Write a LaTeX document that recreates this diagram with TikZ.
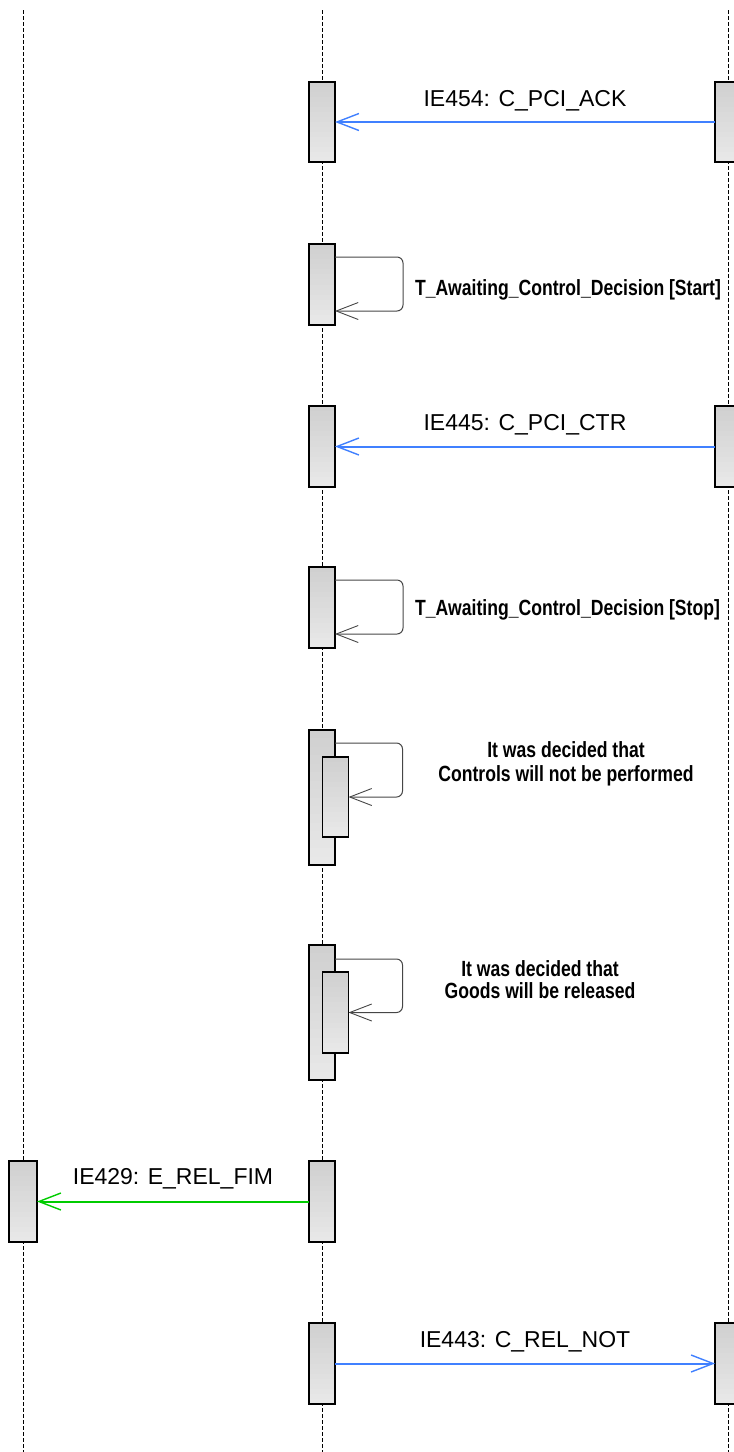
\documentclass[tikz,border=0pt]{standalone}
\usepackage{fontspec}
\setmainfont{Liberation Sans}
\newfontfamily\condbold[FakeStretch=0.8]{Liberation Sans Bold}
\usetikzlibrary{arrows.meta,calc}
\definecolor{msgblue}{RGB}{64,128,255}
\definecolor{msggreen}{RGB}{0,204,0}
\definecolor{loopgray}{RGB}{70,70,70}
\definecolor{boxtop}{RGB}{208,208,208}
\definecolor{boxbot}{RGB}{232,232,232}
\begin{document}
\begin{tikzpicture}[x=1pt,y=-1pt,
  lifeline/.style={draw=black, line width=1pt, dash pattern=on 4pt off 2pt},
  actbox/.style={draw=black, line width=1.6pt, fill=boxbot,
     minimum width=26pt, inner sep=0pt, outer sep=0pt,
     path picture={
       \foreach \k in {0,...,15}{
         \pgfmathsetmacro\pc{100-\k*100/15}
         \fill[boxtop!\pc!boxbot]
           ($(path picture bounding box.north west)!{\k/16}!(path picture bounding box.south west)$)
           rectangle
           ($(path picture bounding box.north east)!{(\k+1.3)/16}!(path picture bounding box.south east)$);
       }
     }},
  msg/.style={line width=2pt, -{Straight Barb[length=22pt,width=17pt,line width=1.4pt]}},
  selfmsg/.style={draw=loopgray, line width=1pt, rounded corners=6pt,
     -{Straight Barb[length=22pt,width=17pt,line width=0.9pt]}},
  msglabel/.style={font=\fontsize{23}{27}\selectfont, text=black, inner sep=0pt},
  condlabel/.style={font=\condbold\fontsize{22}{24}\selectfont, text=black, inner sep=0pt, align=center}
]
\useasboundingbox (0,0) rectangle (734,1452);

% lifelines
\coordinate (Ltop) at (23,10);   \coordinate (Lbot) at (23,1452);
\coordinate (Mtop) at (322,10);  \coordinate (Mbot) at (322,1452);
\coordinate (Rtop) at (728,10);  \coordinate (Rbot) at (728,1452);
\draw[lifeline] (Ltop) -- (Lbot);
\draw[lifeline] (Mtop) -- (Mbot);
\draw[lifeline] (Rtop) -- (Rbot);

% activation boxes, middle
\node[actbox, minimum height=80pt] (m1) at (322,122) {};
\node[actbox, minimum height=81pt] (m2) at (322,284.5) {};
\node[actbox, minimum height=81pt] (m3) at (322,446.5) {};
\node[actbox, minimum height=81pt] (m4) at (322,607.5) {};
\node[actbox, minimum height=135pt] (m5) at (322,797.5) {};
\node[actbox, minimum height=80pt] (m5i) at (335.5,797) {};
\node[actbox, minimum height=135pt] (m6) at (322,1012.5) {};
\node[actbox, minimum height=81pt] (m6i) at (335.5,1012.5) {};
\node[actbox, minimum height=81pt] (m7) at (322,1201.5) {};
\node[actbox, minimum height=81pt] (m8) at (322,1363.5) {};
% right
\node[actbox, minimum height=80pt] (r1) at (728,122) {};
\node[actbox, minimum height=81pt] (r3) at (728,446.5) {};
\node[actbox, minimum height=81pt] (r8) at (728,1363.5) {};
% left
\node[actbox, minimum height=81pt, minimum width=28pt] (l7) at (23,1201.5) {};

% messages
\draw[msg, msgblue] (r1.west) -- (m1.east)
  node[msglabel, midway, anchor=base, yshift=16pt] (t1) {IE454: C\_PCI\_ACK};
\draw[msg, msgblue] (r3.west) -- (m3.east)
  node[msglabel, midway, anchor=base, yshift=16pt] (t3) {IE445: C\_PCI\_CTR};
\draw[msg, msggreen] (m7.west) -- (l7.east)
  node[msglabel, midway, anchor=base, yshift=17pt] (t7) {IE429: E\_REL\_FIM};
\draw[msg, msgblue] (m8.east) -- (r8.west)
  node[msglabel, midway, anchor=base, yshift=16pt] (t8) {IE443: C\_REL\_NOT};

% self messages
\draw[selfmsg] ([yshift=-13pt]m2.north east) -| ([xshift=68pt,yshift=14pt]m2.south east) -- ([yshift=14pt]m2.south east);
\draw[selfmsg] ([yshift=-13pt]m4.north east) -| ([xshift=68pt,yshift=14pt]m4.south east) -- ([yshift=14pt]m4.south east);
\draw[selfmsg] ([yshift=-13pt]m5.north east) -| ([xshift=54pt]m5i.east) -- (m5i.east);
\draw[selfmsg] ([yshift=-14pt]m6.north east) -| ([xshift=54pt]m6i.east) -- (m6i.east);

\node[condlabel, anchor=west] (s2) at (415,290) {T\_Awaiting\_Control\_Decision [Start]};
\node[condlabel, anchor=west] (s4) at (415,610) {T\_Awaiting\_Control\_Decision [Stop]};
\node[condlabel] (s5) at (566,764) {It was decided that\\Controls will not be performed};
\node[condlabel, font=\condbold\fontsize{22}{22}\selectfont] (s6) at (540,980) {It was decided that\\Goods will be released};
\end{tikzpicture}
\end{document}
